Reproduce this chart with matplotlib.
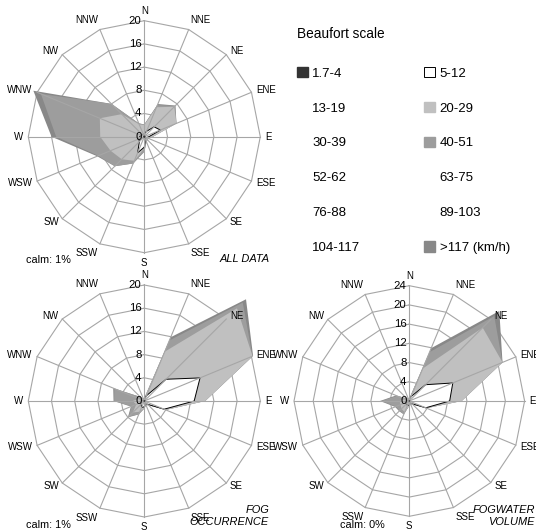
import numpy as np
import matplotlib
matplotlib.use("Agg")
from matplotlib import pyplot as plt
from matplotlib.patches import Patch

plt.rcParams['font.family'] = ['Liberation Sans', 'DejaVu Sans']

directions = ["N", "NNE", "NE", "ENE", "E", "ESE", "SE", "SSE",
              "S", "SSW", "SW", "WSW", "W", "WNW", "NW", "NNW"]

# cumulative frequencies (%) per direction
all_1 = [0.2, 0.2, 0.2, 0.2, 0.2, 0.2, 0.2, 0.2, 0.2, 0.2, 0.2, 0.2, 0.2, 0.2, 0.2, 0.2]
all_5 = [0.5, 1.0, 2.4, 3.0, 0.8, 0.4, 0.3, 0.5, 1.8, 3.0, 1.2, 1.0, 0.8, 0.6, 0.5, 0.4]
all_20 = [2.0, 5.5, 7.3, 6.0, 1.5, 0.7, 0.7, 0.8, 2.0, 4.5, 5.5, 6.3, 7.6, 8.3, 5.5, 2.3]
all_40 = [2.1, 5.9, 7.5, 6.0, 1.5, 0.8, 0.8, 1.0, 2.6, 5.0, 7.2, 8.6, 15.2, 19.3, 8.0, 2.5]
all_117 = [2.1, 6.1, 7.6, 6.0, 1.5, 0.8, 0.8, 1.0, 2.6, 5.0, 7.2, 8.8, 16.0, 20.7, 8.0, 2.5]

fog_1 = [0.15, 0.15, 0.2, 0.2, 0.2, 0.15, 0.15, 0.15, 0.15, 0.15, 0.15, 0.15, 0.15, 0.15, 0.15, 0.15]
fog_5 = [0.3, 1.0, 5.3, 10.4, 8.6, 3.7, 0.8, 0.5, 1.0, 1.2, 0.8, 0.5, 0.5, 0.3, 0.2, 0.2]
fog_20 = [0.4, 9.2, 22.6, 20.2, 10.5, 4.0, 1.0, 0.8, 1.2, 2.0, 2.8, 1.5, 2.0, 1.0, 0.5, 0.3]
fog_40 = [0.5, 11.3, 24.0, 20.2, 10.5, 4.0, 1.0, 0.8, 1.3, 2.5, 3.8, 2.4, 5.2, 5.6, 1.0, 0.5]
fog_117 = [0.5, 11.9, 24.8, 20.3, 10.5, 4.0, 1.0, 0.8, 1.3, 2.5, 4.0, 2.5, 5.3, 5.8, 1.0, 0.5]

vol_1 = [0.15, 0.15, 0.2, 0.2, 0.2, 0.15, 0.15, 0.15, 0.15, 0.15, 0.15, 0.15, 0.15, 0.15, 0.15, 0.15]
vol_5 = [0.3, 1.0, 4.8, 9.8, 8.4, 3.7, 0.8, 0.5, 0.8, 1.0, 0.8, 0.5, 0.5, 0.3, 0.2, 0.2]
vol_20 = [0.3, 7.3, 21.6, 21.0, 10.9, 3.9, 1.0, 0.8, 1.0, 2.5, 2.3, 2.0, 2.0, 1.0, 0.5, 0.3]
vol_40 = [0.5, 11.0, 25.0, 21.0, 10.9, 3.9, 1.0, 0.8, 1.0, 3.0, 2.9, 3.0, 5.8, 2.8, 0.8, 0.5]
vol_117 = [0.5, 11.9, 26.5, 21.0, 10.9, 3.9, 1.0, 0.8, 1.0, 3.0, 3.0, 3.2, 6.1, 3.0, 0.8, 0.5]

beaufort = ["1.7-4", "5-12", "13-19", "20-29", "30-39", "40-51", "52-62",
            "63-75", "76-88", "89-103", "104-117", ">117 (km/h)"]

C_1 = "#333333"
C_20 = "#c0c0c0"
C_40 = "#9d9d9d"
C_117 = "#888888"
GRID = "#a6a6a6"

W, H = 536, 531
fig = plt.figure(figsize=(W / 100, H / 100), dpi=100)

theta = np.deg2rad(np.arange(16) * 22.5)
tc = np.append(theta, theta[0])


def closed(v):
    return np.append(v, v[0])


def rose(cx, cy, rpx, gmax, layers, caption, cap_x, cap_y, calm, calm_x):
    k = 1.4
    half = rpx * k
    ax = fig.add_axes([(cx - half) / W, (H - cy - half) / H, 2 * half / W, 2 * half / H],
                      projection='polar')
    ax.set_theta_zero_location('N')
    ax.set_theta_direction(-1)
    ax.set_ylim(0, gmax * k)
    ax.axis('off')

    # polygon rings
    for r in range(4, gmax + 1, 4):
        ax.plot(tc, [r] * 17, color=GRID, lw=0.8, zorder=1)

    v117, v40, v20, v5, v1 = layers
    ax.fill(tc, closed(v117), color=C_117, lw=0, zorder=2)
    ax.fill(tc, closed(v40), color=C_40, lw=0, zorder=2)
    ax.fill(tc, closed(v20), color=C_20, lw=0, zorder=2)
    ax.fill(tc, closed(v5), facecolor="white", edgecolor="black", lw=0.7, zorder=3)

    # spokes
    for t in theta:
        ax.plot([t, t], [0, gmax], color=GRID, lw=0.8, zorder=4)
    ax.fill(tc, closed(v1), color=C_1, lw=0, zorder=5)

    for t, name in zip(theta, directions):
        s, c = np.sin(t), np.cos(t)
        ha = 'left' if s > 0.1 else ('right' if s < -0.1 else 'center')
        va = 'bottom' if c > 0.9 else ('top' if c < -0.9 else 'center')
        ax.annotate(name, xy=(t, gmax), xytext=(3.5 * s, 3.5 * c), textcoords='offset points',
                    ha=ha, va=va, fontsize=7.0, zorder=6)
    for r in range(0, gmax + 1, 4):
        ax.annotate(str(r), xy=(0, r), xytext=(-2, 0), textcoords='offset points',
                    ha='right', va='center', fontsize=8.2, zorder=6)

    fig.text(calm_x / W, 1 - (cy + 123.5) / H, calm, fontsize=7.8, ha='left', va='center')
    fig.text(cap_x / W, 1 - cap_y / H, caption, fontsize=7.9, style='italic',
             ha='right', va='center', multialignment='right', linespacing=1.3)
    return ax


rose(144.3, 136.7, 116, 20, [all_117, all_40, all_20, all_5, all_1],
     "ALL DATA", 270, 258.5, "calm: 1%", 26)
rose(144.3, 401, 116, 20, [fog_117, fog_40, fog_20, fog_5, fog_1],
     "FOG\nOCCURRENCE", 269, 515.8, "calm: 1%", 26)
rose(409.3, 401, 115.3, 24, [vol_117, vol_40, vol_20, vol_5, vol_1],
     "FOGWATER\nVOLUME", 535, 515.8, "calm: 0%", 340)

# legend
fills = {"1.7-4": dict(facecolor=C_1, edgecolor=C_1),
         "5-12": dict(facecolor="white", edgecolor="black", lw=0.7),
         "20-29": dict(facecolor=C_20, edgecolor=C_20),
         "40-51": dict(facecolor=C_40, edgecolor=C_40),
         ">117 (km/h)": dict(facecolor=C_117, edgecolor=C_117)}
handles = [Patch(label=b, **fills.get(b, dict(facecolor="none", edgecolor="none")))
           for b in beaufort]
order = list(range(0, 12, 2)) + list(range(1, 12, 2))
fig.legend([handles[i] for i in order], [beaufort[i] for i in order],
           loc='upper left', bbox_to_anchor=(296.7 / W, 1 - 67 / H), ncol=2,
           frameon=False, fontsize=9.5, borderpad=0, borderaxespad=0,
           handlelength=0.84, handleheight=0.84, handletextpad=0.35,
           labelspacing=1.67, columnspacing=4.8)
fig.text(297 / W, 1 - 34 / H, "Beaufort scale", fontsize=9.8, ha='left', va='center')

fig.savefig("out.png", dpi=100)
